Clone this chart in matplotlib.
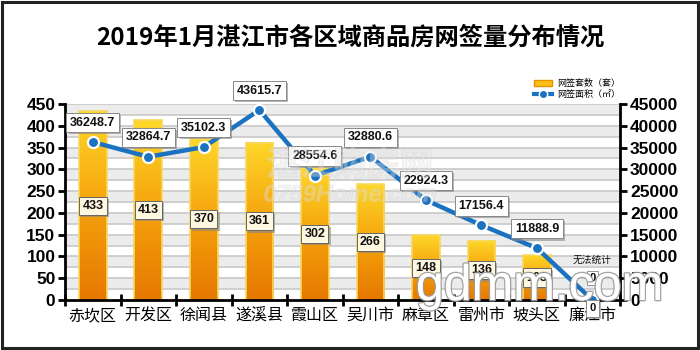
import numpy as np
import matplotlib.pyplot as plt
import matplotlib.patheffects as pe
from matplotlib.colors import LinearSegmentedColormap
from matplotlib.patches import Rectangle
from matplotlib.lines import Line2D

plt.rcParams['font.family'] = ['Noto Sans CJK SC', 'DejaVu Sans']

districts = ['赤坎区', '开发区', '徐闻县', '遂溪县', '霞山区', '吴川市', '麻章区', '雷州市', '坡头区', '廉江市']
units = [433, 413, 370, 361, 302, 266, 148, 136, 103, 0]
area = [36248.7, 32864.7, 35102.3, 43615.7, 28554.6, 32880.6, 22924.3, 17156.4, 11888.9, 0]

title = '2019年1月湛江市各区域商品房网签量分布情况'
units_label = '网签套数（套）'
area_label = '网签面积（㎡）'

LAT = ['Liberation Sans', 'DejaVu Sans']
shadow = [pe.withSimplePatchShadow(offset=(1.5, -1.5), shadow_rgbFace='#888888', alpha=0.6)]

fig = plt.figure(figsize=(7, 3.5), dpi=100)
fig.patches.append(Rectangle((0.003, 0.006), 0.994, 0.988, transform=fig.transFigure,
                             fill=False, ec='#222222', lw=2.2, zorder=10))
ax = fig.add_axes([0.093, 0.143, 0.793, 0.56])
ax2 = ax.twinx()

x = np.arange(len(districts))

# banded background every 25 units
for k in range(18):
    lo = k * 25
    if k % 2 == 1:
        ax.axhspan(lo, lo + 25, color='#ececec', zorder=0, lw=0)
    ax.axhline(lo + 25, color='#c8c8c8', lw=1.2, zorder=0.5)

# orange-to-yellow gradient bars
grad = LinearSegmentedColormap.from_list('bar', ['#e67800', '#f5a20c', '#fed72a'])
g = np.linspace(0, 1, 128).reshape(-1, 1)
w = 0.5
for xi, v in zip(x, units):
    if v <= 0:
        continue
    ax.imshow(g, cmap=grad, origin='lower', aspect='auto',
              extent=[xi - w / 2, xi + w / 2, 0, v], zorder=2)
    ax.add_patch(Rectangle((xi - w / 2, 0), w, v, fill=False, ec='#f8d860', lw=1.2, zorder=2.5))
    t = ax.annotate(str(v), (xi, v / 2), ha='center', va='center', fontsize=9,
                    fontweight='bold', family=LAT, color='#111111', zorder=4,
                    bbox=dict(boxstyle='square,pad=0.25', fc='#fff8e0', ec='#666666', lw=0.7))
    t.get_bbox_patch().set_path_effects(shadow)
ax.set_aspect('auto')
ax.set_xlim(-0.5, len(districts) - 0.5)
ax.set_ylim(0, 450)
ax2.set_ylim(0, 45000)

ax.annotate('0', (x[-1], 0), xytext=(0, 16), textcoords='offset points', ha='center', va='center',
            fontsize=8, fontweight='bold', family=LAT, zorder=4,
            bbox=dict(boxstyle='square,pad=0.2', fc='white', ec='#888888', lw=0.6))
ax.annotate('无法统计', (x[-1], 0), xytext=(0, 29), textcoords='offset points', ha='center',
            va='center', fontsize=7, color='#111111', zorder=4)

# signed area line
ax2.plot(x, area, color='#1a72c0', lw=3.2, zorder=5, solid_joinstyle='round')
ax2.plot(x, area, 'o', ms=8, mfc='#1a72c0', mec='white', mew=1.6, zorder=6)
for xi, v in zip(x, area):
    lbl = f'{v:.1f}' if v > 0 else '0'
    dy = 14 if v > 0 else -6
    t = ax2.annotate(lbl, (xi, v), xytext=(0, dy), textcoords='offset points', ha='center',
                     va='center', fontsize=9 if v > 0 else 8, fontweight='bold',
                     family=LAT, color='#111111', zorder=7,
                     bbox=dict(boxstyle='square,pad=0.3', fc='white', ec='#888888', lw=0.7))
    t.get_bbox_patch().set_path_effects(shadow)

# axes styling
for a in (ax, ax2):
    a.spines['top'].set_visible(False)
    for s in ('left', 'right', 'bottom'):
        a.spines[s].set_linewidth(2)
ax.spines['right'].set_visible(False)
ax2.spines['left'].set_visible(False)
ax2.spines['bottom'].set_visible(False)

ax.set_yticks(np.arange(0, 451, 50))
ax2.set_yticks(np.arange(0, 45001, 5000))
num_font = dict(family=LAT, fontweight='bold', fontsize=12.5)
ax.set_yticklabels([str(t) for t in range(0, 451, 50)], **num_font)
ax2.set_yticklabels([str(t) for t in range(0, 45001, 5000)], **num_font)
ax.tick_params(axis='y', length=5, width=2, pad=2)
ax2.tick_params(axis='y', length=5, width=2, pad=2)

ax.set_xticks(np.arange(-0.5, len(districts), 1.0))
ax.set_xticklabels([])
ax.set_xticks(x, minor=True)
ax.set_xticklabels(districts, minor=True, fontsize=11.5)
ax.tick_params(axis='x', which='major', direction='inout', length=9, width=2)
ax.tick_params(axis='x', which='minor', length=0, pad=5)

fig.text(0.5, 0.893, title, ha='center', va='center', fontsize=17.5, fontweight='bold')

# site watermarks
fig.text(0.5, 0.526, '湛江购房网', ha='center', va='center', fontsize=24, fontweight='bold',
         style='italic', color='#e6e6e6', alpha=0.2, zorder=3,
         path_effects=[pe.withStroke(linewidth=1.0, foreground='#c4c4c4')])
fig.text(0.5, 0.443, '0759Home.com', ha='center', va='center', fontsize=17, fontweight='bold',
         style='italic', family=LAT, color='#e6e6e6', alpha=0.2, zorder=3,
         path_effects=[pe.withStroke(linewidth=1.0, foreground='#c4c4c4')])
fig.text(0.771, 0.18, 'gdmm.com', ha='center', va='center', fontsize=36, family=LAT,
         color='white', alpha=0.9, zorder=8,
         path_effects=[pe.withStroke(linewidth=2, foreground='#9a9a9a'), pe.Normal()])

handles = [Rectangle((0, 0), 1, 1, fc='#fbbf18', ec='#e89000', lw=1),
           Line2D([0], [0], color='#1a72c0', lw=3, marker='o', ms=6, mfc='#1a72c0', mec='white')]
fig.legend(handles, [units_label, area_label], loc='upper left', bbox_to_anchor=(0.755, 0.79),
           frameon=False, fontsize=6.5, handlelength=2.0, handleheight=0.6, labelspacing=0.2,
           borderpad=0.1, handletextpad=0.6)

fig.savefig('out.png', dpi=100)
